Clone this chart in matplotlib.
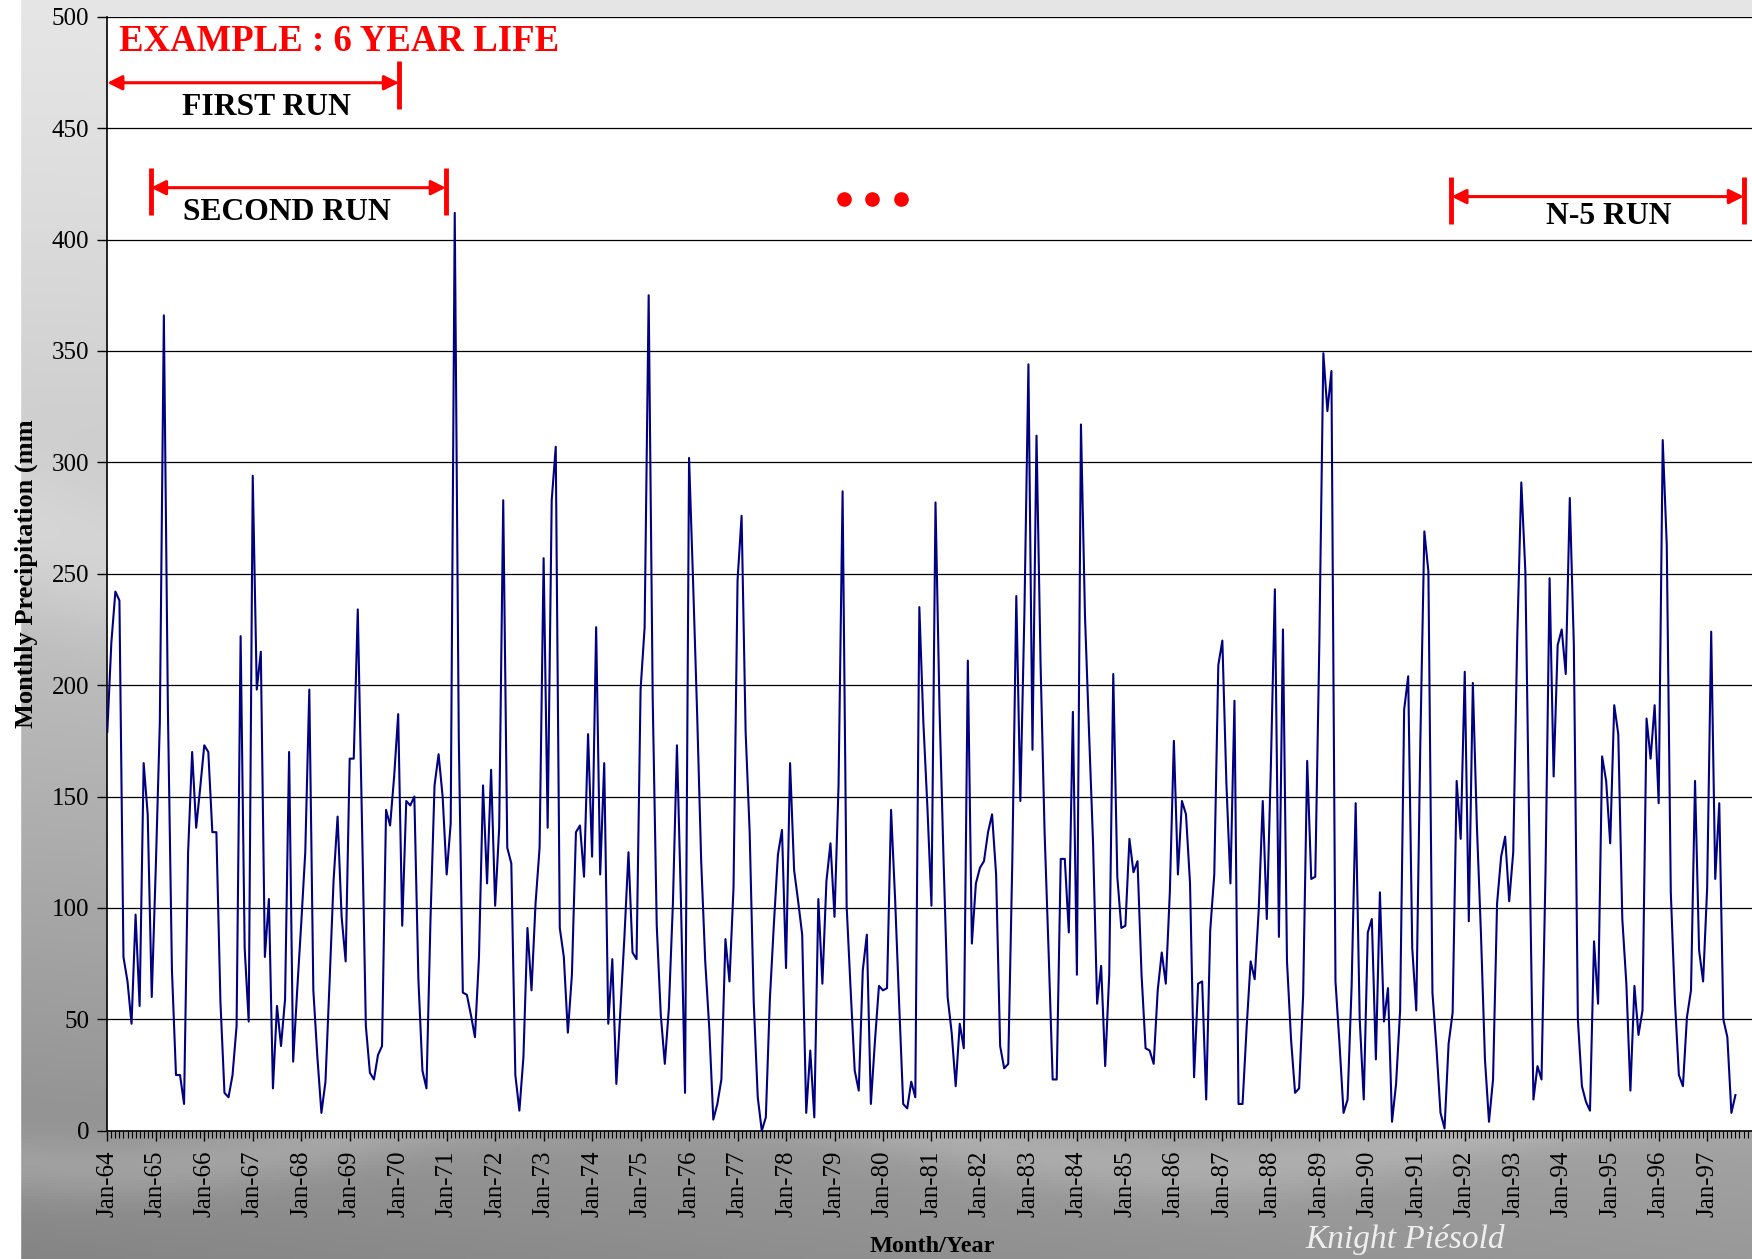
import numpy as np
import matplotlib
matplotlib.use("Agg")
import matplotlib.pyplot as plt
from matplotlib.ticker import MultipleLocator, FixedLocator

# ---------------- data (monthly precipitation, mm), Jan-64 .. Aug-97 ----------------
precip_1964_1966 = [179, 219, 242, 238, 78, 67, 48, 97, 56, 165, 142, 60,
                    118, 183, 366, 189, 72, 25, 25, 12, 125, 170, 136, 154,
                    173, 170, 134, 134, 58, 17, 15, 25, 47, 222, 82, 49]
precip_1967_1969 = [294, 198, 215, 78, 104, 19, 56, 38, 59, 170, 31, 63,
                    93, 125, 198, 63, 33, 8, 22, 66, 112, 141, 96, 76,
                    167, 167, 234, 142, 47, 26, 23, 34, 38, 144, 137, 159]
precip_1970_1972 = [187, 92, 148, 146, 150, 68, 27, 19, 95, 155, 169, 150,
                    115, 138, 412, 176, 62, 61, 52, 42, 78, 155, 111, 162,
                    101, 136, 283, 127, 120, 25, 9, 33, 91, 63, 102, 127]
precip_1973_1975 = [257, 136, 283, 307, 91, 78, 44, 70, 134, 137, 114, 178,
                    123, 226, 115, 165, 48, 77, 21, 54, 87, 125, 80, 77,
                    198, 226, 375, 194, 92, 52, 30, 55, 102, 173, 102, 17]
precip_1976_1978 = [302, 246, 187, 121, 76, 46, 5, 12, 23, 86, 67, 109,
                    247, 276, 179, 134, 58, 15, 0, 6, 59, 93, 124, 135,
                    73, 165, 117, 103, 88, 8, 36, 6, 104, 66, 112, 129]
precip_1979_1981 = [96, 155, 287, 101, 63, 27, 18, 72, 88, 12, 40, 65,
                    63, 64, 144, 104, 57, 12, 10, 22, 15, 235, 183, 145,
                    101, 282, 189, 121, 60, 44, 20, 48, 37, 211, 84, 111]
precip_1982_1984 = [118, 121, 134, 142, 115, 38, 28, 30, 120, 240, 148, 232,
                    344, 171, 312, 210, 134, 80, 23, 23, 122, 122, 89, 188,
                    70, 317, 231, 179, 129, 57, 74, 29, 70, 205, 114, 91]
precip_1985_1987 = [92, 131, 116, 121, 70, 37, 36, 30, 63, 80, 66, 107,
                    175, 115, 148, 142, 111, 24, 66, 67, 14, 90, 115, 209,
                    220, 156, 111, 193, 12, 12, 46, 76, 68, 99, 148, 95]
precip_1988_1990 = [163, 243, 87, 225, 76, 41, 17, 19, 61, 166, 113, 114,
                    218, 349, 323, 341, 67, 39, 8, 14, 65, 147, 50, 14,
                    89, 95, 32, 107, 49, 64, 4, 21, 54, 189, 204, 82]
precip_1991_1993 = [54, 174, 269, 251, 62, 37, 8, 1, 39, 53, 157, 131,
                    206, 94, 201, 137, 89, 32, 4, 23, 102, 123, 132, 103,
                    125, 222, 291, 251, 129, 14, 29, 23, 117, 248, 159, 218]
precip_1994_1997 = [225, 205, 284, 218, 50, 20, 13, 9, 85, 57, 168, 157,
                    129, 191, 178, 95, 66, 18, 65, 43, 54, 185, 167, 191,
                    147, 310, 263, 107, 59, 25, 20, 51, 63, 157, 81, 67,
                    109, 224, 113, 147, 50, 42, 8, 16]

year_labels = ["Jan-64", "Jan-65", "Jan-66", "Jan-67", "Jan-68", "Jan-69", "Jan-70",
               "Jan-71", "Jan-72", "Jan-73", "Jan-74", "Jan-75", "Jan-76", "Jan-77",
               "Jan-78", "Jan-79", "Jan-80", "Jan-81", "Jan-82", "Jan-83", "Jan-84",
               "Jan-85", "Jan-86", "Jan-87", "Jan-88", "Jan-89", "Jan-90", "Jan-91",
               "Jan-92", "Jan-93", "Jan-94", "Jan-95", "Jan-96", "Jan-97"]
y_ticks = [0, 50, 100, 150, 200, 250, 300, 350, 400, 450, 500]

precip = (precip_1964_1966 + precip_1967_1969 + precip_1970_1972 + precip_1973_1975 +
          precip_1976_1978 + precip_1979_1981 + precip_1982_1984 + precip_1985_1987 +
          precip_1988_1990 + precip_1991_1993 + precip_1994_1997)
months = np.arange(len(precip))

SERIF = ["Liberation Serif", "DejaVu Serif"]
plt.rcParams["font.family"] = SERIF

W, H = 1752, 1259
fig = plt.figure(figsize=(W / 100, H / 100), dpi=100)

# ---------------- slide-like background ----------------
bg = fig.add_axes([0, 0, 1, 1], zorder=-10)
yy = np.linspace(0, 1, 400)[:, None]
xx = np.linspace(0, 1, 500)[None, :]
grad = 0.90 - 0.30 * yy ** 1.4 - 0.08 * (1 - xx) * yy
band = np.exp(-((yy - 0.42 - 0.06 * np.sin(7 * xx)) / 0.06) ** 2)
grad = grad + 0.06 * band
wave = np.exp(-((yy - 0.90 - 0.03 * np.sin(10 * xx + 1.0)) / 0.025) ** 2)
grad = grad + 0.07 * wave
img = np.clip(np.repeat(grad[:, :, None], 3, axis=2), 0, 1)
bg.imshow(img, extent=[0, 1, 0, 1], aspect="auto", origin="upper")
bg.axvspan(0, 20 / W, color="white")
bg.set_xlim(0, 1)
bg.set_ylim(0, 1)
bg.axis("off")

# ---------------- main axes ----------------
left = 107.3 / W
bottom = (H - 1130.7) / H
top = (H - 16.8) / H
ax = fig.add_axes([left, bottom, 1.0 - left, top - bottom])
ax.set_facecolor("white")

ax.plot(months, precip, color="#000080", lw=1.5, zorder=3)

ax.set_xlim(0, 407.1)
ax.set_ylim(0, 500)
ax.set_yticks(y_ticks)
ax.yaxis.grid(True, color="black", lw=0.9)
ax.set_axisbelow(True)

ax.xaxis.set_major_locator(FixedLocator(np.arange(len(year_labels)) * 12))
ax.set_xticklabels(year_labels, rotation=90, fontsize=18)
ax.xaxis.set_minor_locator(MultipleLocator(1))
ax.tick_params(axis="x", which="major", length=7, width=1, direction="out", pad=7)
ax.tick_params(axis="x", which="minor", length=5, width=0.8, direction="out")
ax.tick_params(axis="y", which="major", length=7, width=1, direction="out",
               labelsize=18, pad=6)
for s in ["top", "right"]:
    ax.spines[s].set_visible(False)
ax.spines["left"].set_linewidth(1.2)
ax.spines["bottom"].set_linewidth(1.2)

ax.set_ylabel("Monthly Precipitation (mm", fontsize=19, fontweight="bold")
ax.yaxis.set_label_coords(-0.042, 0.5)
fig.text(932 / W, 1 - 1246 / H, "Month/Year", fontsize=17.5, fontweight="bold",
         ha="center", va="center")

# ---------------- annotations ----------------
RED = "#ff0000"
ax.text(3.0, 489.0, "EXAMPLE : 6 YEAR LIFE", color=RED, fontsize=26.5,
        fontweight="bold", ha="left", va="center")


def run_bracket(x0, x1, y, ybot, ytop, label, lx, ly, left_bar=True):
    ax.annotate("", xy=(x0, y), xytext=(x1, y),
                arrowprops=dict(arrowstyle="<|-|>", color=RED, lw=2.2,
                                mutation_scale=22, shrinkA=0, shrinkB=0),
                annotation_clip=False)
    ax.plot([x1, x1], [ybot, ytop], color=RED, lw=3.5, solid_capstyle="butt",
            clip_on=False)
    if left_bar:
        ax.plot([x0, x0], [ybot, ytop], color=RED, lw=3.5, solid_capstyle="butt",
                clip_on=False)
    ax.text(lx, ly, label, fontsize=22.8, fontweight="bold",
            ha="center", va="center", color="black")


run_bracket(0.0, 72.2, 470.4, 458.4, 480.0, "FIRST RUN", 39.3, 459.5, left_bar=False)
run_bracket(10.8, 83.8, 423.3, 411.2, 432.3, "SECOND RUN", 44.5, 412.0)
run_bracket(332.7, 405.1, 419.3, 407.2, 428.3, "N-5 RUN", 371.7, 410.5)

ax.plot([182.3, 189.2, 196.4], [418.2, 418.2, 418.2], linestyle="none",
        marker="o", markersize=9.5, color=RED)

# watermark of the slide, kept fully inside the picture
fig.text(0.745, 0.009, "Knight Piésold", fontsize=24, style="italic",
         color="white", alpha=0.85, ha="left", va="baseline", family=SERIF)

fig.savefig("out.png", dpi=100)
